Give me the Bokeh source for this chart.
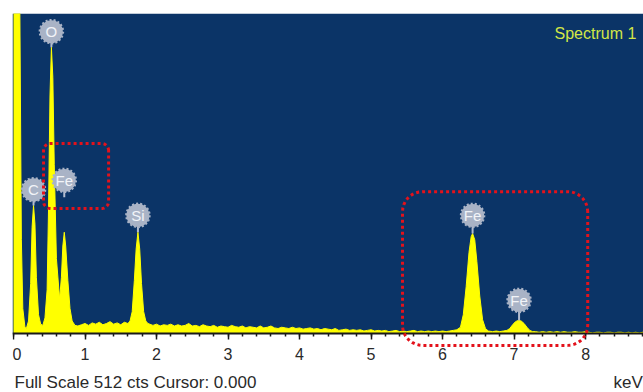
import numpy as np
from bokeh.plotting import figure
from bokeh.models import (BoxAnnotation, Label, PolyAnnotation, Range1d,
                          SingleIntervalTicker, Spacer)
from bokeh.layouts import row
from bokeh.core.properties import value
from bokeh.embed import file_html
from bokeh.resources import INLINE

# EDS spectrum outline: energy (keV) and counts
energy_kev = [
    0.00, 0.02, 0.06, 0.09, 0.11, 0.13, 0.16, 0.18, 0.21, 0.24,
    0.26, 0.28, 0.30, 0.32, 0.35, 0.38, 0.41, 0.44, 0.47, 0.49,
    0.51, 0.53, 0.55, 0.57, 0.60, 0.645, 0.67, 0.69, 0.71, 0.73,
    0.76, 0.79, 0.82, 0.86, 0.90, 0.95, 1.00, 1.05, 1.10, 1.15,
    1.20, 1.25, 1.30, 1.35, 1.40, 1.45, 1.50, 1.55, 1.60, 1.63,
    1.66, 1.69, 1.715, 1.74, 1.765, 1.79, 1.82, 1.85, 1.88, 1.95,
    2.00, 2.05, 2.10, 2.15, 2.20, 2.25, 2.30, 2.35, 2.40, 2.45,
    2.50, 2.55, 2.60, 2.65, 2.70, 2.75, 2.80, 2.85, 2.90, 2.95,
    3.00, 3.05, 3.10, 3.15, 3.20, 3.25, 3.30, 3.35, 3.40, 3.45,
    3.50, 3.55, 3.60, 3.65, 3.70, 3.75, 3.80, 3.85, 3.90, 3.95,
    4.00, 4.05, 4.10, 4.15, 4.20, 4.25, 4.30, 4.35, 4.40, 4.45,
    4.50, 4.55, 4.60, 4.65, 4.70, 4.75, 4.80, 4.85, 4.90, 4.95,
    5.00, 5.05, 5.10, 5.15, 5.20, 5.25, 5.30, 5.35, 5.40, 5.45,
    5.50, 5.55, 5.60, 5.65, 5.70, 5.75, 5.80, 5.85, 5.90, 5.95,
    6.00, 6.05, 6.10, 6.15, 6.20, 6.25, 6.29, 6.33, 6.37, 6.40,
    6.42, 6.45, 6.48, 6.52, 6.56, 6.60, 6.64, 6.70, 6.75, 6.80,
    6.85, 6.90, 6.94, 6.98, 7.02, 7.06, 7.10, 7.14, 7.18, 7.22,
    7.26, 7.30, 7.35, 7.40, 7.45, 7.50, 7.55, 7.60, 7.65, 7.70,
    7.75, 7.80, 7.85, 7.90, 7.95, 8.00, 8.05, 8.10, 8.15, 8.20,
    8.25, 8.30, 8.35, 8.40, 8.45, 8.50, 8.55, 8.60, 8.65, 8.70,
    8.75, 8.80, 8.85,
]
counts_cts = [
    700, 900, 900, 500, 150, 40, 10, 8, 20, 80,
    170, 205, 175, 90, 30, 15, 13, 25, 70, 200,
    380, 458, 410, 270, 120, 55, 90, 140, 162, 140,
    85, 40, 20, 13, 12, 14, 16, 13, 17, 15,
    18, 14, 16, 19, 15, 17, 14, 18, 16, 20,
    35, 85, 135, 162, 135, 80, 35, 20, 16, 13,
    15, 12, 14, 13, 15, 12, 14, 12, 13, 16,
    12, 13, 11, 14, 12, 11, 13, 10, 12, 11,
    10, 13, 11, 10, 12, 9, 11, 10, 9, 12,
    9, 10, 12, 9, 8, 10, 9, 8, 10, 8,
    9, 7, 8, 9, 7, 8, 6, 8, 7, 6,
    8, 5, 6, 7, 5, 6, 5, 6, 4, 5,
    6, 4, 5, 4, 5, 3, 4, 5, 3, 4,
    3, 4, 5, 3, 4, 3, 4, 3, 4, 3,
    4, 3, 4, 5, 6, 10, 30, 75, 130, 155,
    160, 150, 115, 60, 22, 8, 4, 3, 4, 3,
    4, 5, 8, 14, 19, 21, 20, 16, 10, 5,
    3, 3, 2, 3, 2, 3, 2, 3, 2, 3,
    2, 2, 3, 2, 2, 3, 2, 1, 2, 2,
    1, 2, 2, 1, 2, 2, 1, 2, 1, 2,
    1, 2, 1,
]

# element identification markers
element_names = ["O", "C", "Fe", "Si", "Fe", "Fe"]
element_kev = [0.53, 0.28, 0.71, 1.74, 6.42, 7.07]
marker_cts = [483, 230, 245, 189, 189, 53]
stem_end_cts = [458, 205, 218, 162, 160, 21]

FULL_SCALE = 512
X_START, X_END = -0.014, 8.81
FRAME_W = 631
TOP_PAD = 13
CANVAS_H = 392
PX_PER_CT = 320 / FULL_SCALE            # spectrum area is 320 px tall
Y_START = FULL_SCALE - (CANVAS_H - TOP_PAD) / PX_PER_CT

BG = "#0b3467"
YELLOW = "#ffff00"
RED = "#e3121b"
TAG = "#a9b3c6"
INK = "#2a2a2a"
FONT = "Liberation Sans"

p = figure(
    width=FRAME_W, height=CANVAS_H,
    x_range=Range1d(X_START, X_END), y_range=Range1d(Y_START, FULL_SCALE),
    output_backend="svg", toolbar_location=None,
    y_axis_location=None,
    min_border_left=0, min_border_right=0,
    min_border_top=TOP_PAD, min_border_bottom=0,
    background_fill_color="white", border_fill_color="white",
    outline_line_color=None,
)
p.grid.visible = False

# dark display area above the energy axis
p.add_layout(BoxAnnotation(bottom=0, fill_color=BG, fill_alpha=1,
                           line_color=None, level="underlay"))

ax = p.xaxis[0]
ax.fixed_location = 0
ax.ticker = SingleIntervalTicker(interval=1, num_minor_ticks=5)
ax.axis_line_color = "#1a1a1a"
ax.axis_line_width = 2
ax.major_tick_line_color = "#1a1a1a"
ax.minor_tick_line_color = "#1a1a1a"
ax.major_tick_line_width = 1.5
ax.minor_tick_line_width = 1.5
ax.major_tick_in = 0
ax.major_tick_out = 6
ax.minor_tick_in = 0
ax.minor_tick_out = 3
ax.major_label_text_font = FONT
ax.major_label_text_font_size = "16px"
ax.major_label_text_color = INK
ax.major_label_standoff = 8

# spectrum, filled from the baseline
p.varea(x=energy_kev, y1=0, y2=counts_cts, fill_color=YELLOW)
p.line(x=energy_kev, y=counts_cts, line_color=YELLOW, line_width=1)

# element tags: stem, bumpy disc, symbol
p.segment(x0=element_kev, y0=marker_cts, x1=element_kev, y1=stem_end_cts,
          line_color="#b4bdcf", line_width=2)
p.scatter(x=element_kev, y=marker_cts, marker="circle", size=23,
          fill_color=TAG, line_color=TAG, line_width=2.5, line_dash="2 2")
p.text(x=element_kev, y=marker_cts, text=element_names,
       text_align="center", text_baseline="middle",
       text_font=value(FONT), text_font_size="15px", text_color="#f2f4f8")

# dotted rounded highlight boxes
kev_per_px = (X_END - X_START) / FRAME_W
cts_per_px = 1 / PX_PER_CT


def rounded_box(x0, x1, y0, y1, r_px):
    rx, ry = r_px * kev_per_px, r_px * cts_per_px
    xs, ys = [], []
    corners = [((x1 - rx, y1 - ry), 0), ((x0 + rx, y1 - ry), 90),
               ((x0 + rx, y0 + ry), 180), ((x1 - rx, y0 + ry), 270)]
    for (cx, cy), a0 in corners:
        for a in np.linspace(np.radians(a0), np.radians(a0 + 90), 10):
            xs.append(cx + rx * np.cos(a))
            ys.append(cy + ry * np.sin(a))
    return xs, ys


for (bx0, bx1, by0, by1, r) in [(0.42, 1.33, 200, 304, 7),
                                 (5.44, 8.03, -19, 227, 20)]:
    xs, ys = rounded_box(bx0, bx1, by0, by1, r)
    p.add_layout(PolyAnnotation(xs=xs, ys=ys, fill_alpha=0, line_color=RED,
                                line_alpha=1, line_width=3, line_dash="3 3",
                                level="overlay"))

p.add_layout(Label(x=8.71, y=480, text="Spectrum 1", text_align="right",
                   text_baseline="alphabetic", text_font=FONT,
                   text_font_size="16px", text_color="#d2e646"))
p.add_layout(Label(x=0.014, y=-79, text="Full Scale 512 cts Cursor: 0.000",
                   text_align="left", text_baseline="middle",
                   text_font=FONT, text_font_size="17px", text_color=INK))
p.add_layout(Label(x=8.39, y=-79, text="keV", text_align="left",
                   text_baseline="middle", text_font=FONT,
                   text_font_size="17px", text_color=INK))

layout = row(Spacer(width=12, height=CANVAS_H), p)
open("out.html", "w").write(file_html(layout, INLINE))
